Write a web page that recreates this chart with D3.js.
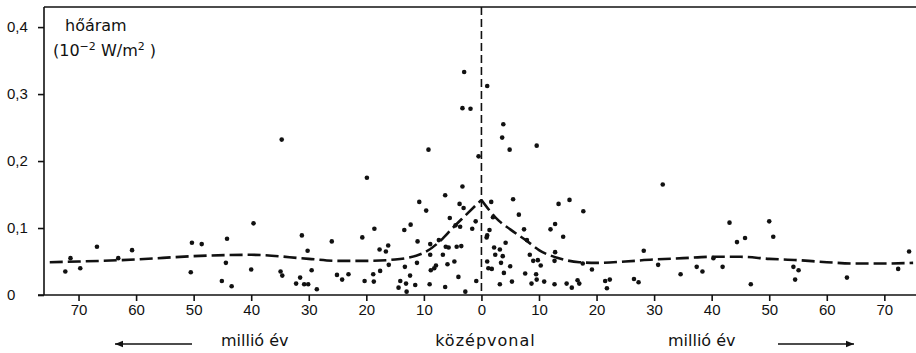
<!DOCTYPE html>
<html>
<head>
<meta charset="utf-8">
<script src="https://cdn.jsdelivr.net/npm/d3@7"></script>
<style>
  body { margin: 0; background: #fff; }
  svg { display: block; font-family: "DejaVu Sans", sans-serif; }
  .axis path, .axis line { stroke: #111; stroke-width: 1.6; }
  .axis text { fill: #111; font-size: 15px; }
  .lbl { fill: #111; font-size: 16px; }
</style>
</head>
<body>
<div id="chart"></div>
<script>
// age in million years (left of ridge negative), heat flow in 10^-2 W/m2
const xTicks = [-70, -60, -50, -40, -30, -20, -10, 0, 10, 20, 30, 40, 50, 60, 70];
const yTicks = [0, 0.1, 0.2, 0.3, 0.4];
const yTickLabels = ['0', '0,1', '0,2', '0,3', '0,4'];

// model curve (dashed)
const model = [
  [-75, 0.049], [-70, 0.05], [-60, 0.053], [-50, 0.058], [-40, 0.06], [-30, 0.054],
  [-25, 0.051], [-20, 0.051], [-15, 0.053], [-10, 0.063], [-7, 0.082], [-5, 0.1],
  [-3, 0.117], [0, 0.142], [3, 0.111], [5, 0.098], [8, 0.08], [10, 0.067],
  [13, 0.056], [17, 0.049], [20, 0.048], [25, 0.05], [30, 0.053], [35, 0.055],
  [40, 0.057], [45, 0.057], [50, 0.054], [55, 0.052], [60, 0.049], [65, 0.047],
  [70, 0.047], [75, 0.048]
];

// measurements
const samples = [
  [-72.3, 0.035], [-71.4, 0.055], [-69.7, 0.040], [-66.8, 0.072], [-63.1, 0.055], [-60.7, 0.067],
  [-50.3, 0.078], [-50.5, 0.034], [-48.6, 0.076], [-44.2, 0.084], [-44.4, 0.048], [-45.1, 0.021],
  [-43.4, 0.013], [-39.6, 0.107], [-40.0, 0.038], [-34.9, 0.035], [-34.6, 0.029], [-34.7, 0.232],
  [-31.2, 0.089], [-30.2, 0.066], [-31.5, 0.026], [-32.2, 0.017], [-30.8, 0.016], [-30.1, 0.016],
  [-29.5, 0.037], [-28.6, 0.0085],
  [-26.0, 0.080], [-25.1, 0.030], [-24.2, 0.023], [-23.1, 0.031], [-20.7, 0.086], [-20.3, 0.021],
  [-19.9, 0.175], [-18.6, 0.099], [-18.8, 0.031], [-18.7, 0.020], [-17.7, 0.068], [-17.6, 0.036],
  [-16.6, 0.065], [-16.2, 0.074], [-16.1, 0.045], [-14.4, 0.011], [-14.1, 0.021], [-13.4, 0.097],
  [-13.3, 0.042], [-13.1, 0.017], [-13.0, 0.005], [-12.3, 0.105], [-12.4, 0.029], [-11.5, 0.015],
  [-11.2, 0.048], [-11.1, 0.080], [-10.8, 0.139], [-9.6, 0.126], [-9.2, 0.217], [-9.0, 0.016],
  [-8.9, 0.076], [-8.8, 0.037], [-8.9, 0.060], [-8.2, 0.040], [-7.9, 0.044], [-7.4, 0.082],
  [-6.7, 0.060], [-6.3, 0.012], [-6.3, 0.149], [-6.2, 0.072], [-5.9, 0.046], [-5.7, 0.071],
  [-5.5, 0.115], [-4.7, 0.050], [-4.5, 0.104], [-4.3, 0.072], [-4.0, 0.027], [-3.8, 0.136],
  [-3.7, 0.102], [-3.5, 0.073], [-3.3, 0.162], [-3.1, 0.130], [-2.8, 0.005], [-1.6, 0.099],
  [-1.0, 0.110], [-0.9, 0.021], [-0.5, 0.207], [-3.0, 0.333], [-3.3, 0.279], [-1.9, 0.278],
  [1.0, 0.312], [3.8, 0.255], [3.6, 0.235], [4.9, 0.217], [9.6, 0.223],
  [1.7, 0.139], [2.0, 0.116], [1.4, 0.097], [1.0, 0.089], [0.9, 0.086], [1.0, 0.050],
  [1.2, 0.040], [1.8, 0.039], [2.2, 0.071], [2.4, 0.060], [3.2, 0.068], [3.4, 0.048],
  [3.7, 0.058], [3.2, 0.016], [3.9, 0.033], [4.2, 0.078], [5.0, 0.043], [5.3, 0.020],
  [5.5, 0.143], [6.5, 0.120], [7.4, 0.098], [7.6, 0.032], [7.9, 0.082], [8.4, 0.060],
  [8.7, 0.017], [9.0, 0.051], [9.5, 0.031], [9.6, 0.023], [9.8, 0.052], [10.3, 0.044],
  [10.9, 0.020], [12.0, 0.098], [12.8, 0.106], [12.8, 0.064], [12.7, 0.051], [12.7, 0.016],
  [13.4, 0.136], [14.2, 0.087], [14.8, 0.017], [15.3, 0.142], [15.7, 0.011], [16.7, 0.022],
  [17.0, 0.017], [17.7, 0.125], [17.6, 0.047], [19.2, 0.038], [21.5, 0.021], [22.3, 0.023],
  [21.8, 0.010],
  [26.5, 0.024], [27.3, 0.019], [28.2, 0.066], [30.7, 0.045], [31.5, 0.165], [34.6, 0.031],
  [37.4, 0.042], [38.4, 0.035], [40.3, 0.055], [41.9, 0.042], [43.1, 0.108], [44.4, 0.079],
  [45.8, 0.085], [46.8, 0.016], [50.0, 0.110], [50.7, 0.087], [54.2, 0.042], [55.1, 0.037],
  [54.5, 0.023], [63.5, 0.026], [72.4, 0.039], [74.3, 0.065]
];

const width = 916, height = 353;
const mLeft = 44, mRight = 916, mTop = 7, mBottom = 295;

const svg = d3.select('#chart').append('svg')
  .attr('width', width)
  .attr('height', height);

const x = d3.scaleLinear().domain([-76, 75.5]).range([mLeft, mRight]);
const y = d3.scaleLinear().domain([0, 0.43]).range([mBottom, mTop]);

// frame top
svg.append('line')
  .attr('x1', mLeft).attr('x2', mRight)
  .attr('y1', mTop).attr('y2', mTop)
  .attr('stroke', '#111').attr('stroke-width', 1.6);

const xAxis = svg.append('g')
  .attr('class', 'axis')
  .attr('transform', `translate(0,${mBottom})`)
  .call(d3.axisBottom(x).tickValues(xTicks).tickFormat(d => Math.abs(d)).tickSizeInner(6).tickSizeOuter(0));
xAxis.select('.domain').attr('d', `M${mLeft - 6},0H${mRight}`);
xAxis.selectAll('text').attr('dy', '0.72em');

const yAxis = svg.append('g')
  .attr('class', 'axis')
  .attr('transform', `translate(${mLeft},0)`)
  .call(d3.axisLeft(y).tickValues(yTicks).tickFormat((d, i) => yTickLabels[i]).tickSizeInner(6).tickSizeOuter(0));
yAxis.select('.domain').attr('d', `M0,${mBottom}V${mTop}`);
yAxis.selectAll('text').attr('x', -37).attr('text-anchor', 'start');

// ridge axis
svg.append('line')
  .attr('x1', x(0)).attr('x2', x(0))
  .attr('y1', mTop).attr('y2', mBottom)
  .attr('stroke', '#111')
  .attr('stroke-width', 1.6)
  .attr('stroke-dasharray', '8,4');

// model curve, two halves so the crest stays sharp
const line = d3.line()
  .x(d => x(d[0]))
  .y(d => y(d[1]))
  .curve(d3.curveMonotoneX);

[model.filter(d => d[0] <= 0), model.filter(d => d[0] >= 0)].forEach(part => {
  svg.append('path')
    .attr('d', line(part))
    .attr('fill', 'none')
    .attr('stroke', '#111')
    .attr('stroke-width', 2.6)
    .attr('stroke-dasharray', '13,5');
});

svg.append('g')
  .selectAll('circle')
  .data(samples)
  .join('circle')
  .attr('cx', d => x(d[0]))
  .attr('cy', d => y(d[1]))
  .attr('r', 2.3)
  .attr('fill', '#111');

// y title
svg.append('text').attr('class', 'lbl').attr('x', 65).attr('y', 31).text('hőáram');
const t2 = svg.append('text').attr('class', 'lbl').attr('x', 53).attr('y', 56);
t2.append('tspan').text('(10');
t2.append('tspan').attr('dy', -6).attr('font-size', 11).text('−2');
t2.append('tspan').attr('dy', 6).text(' W/m');
t2.append('tspan').attr('dy', -6).attr('font-size', 11).text('2');
t2.append('tspan').attr('dy', 6).text(' )');

// bottom captions
svg.append('text').attr('class', 'lbl').attr('x', 221).attr('y', 346).text('millió  év');
svg.append('text').attr('class', 'lbl').attr('x', x(0) + 4).attr('y', 346).attr('text-anchor', 'middle')
  .attr('letter-spacing', 1).text('középvonal');
svg.append('text').attr('class', 'lbl').attr('x', 668).attr('y', 346).text('millió  év');

svg.append('defs').append('marker')
  .attr('id', 'arr')
  .attr('viewBox', '0 -5 10 10')
  .attr('refX', 10).attr('refY', 0)
  .attr('markerWidth', 12).attr('markerHeight', 8)
  .attr('markerUnits', 'userSpaceOnUse')
  .attr('orient', 'auto')
  .append('path')
  .attr('d', 'M0,-4L10,0L0,4Z')
  .attr('fill', '#111');

svg.append('line')
  .attr('x1', 192).attr('x2', 115).attr('y1', 344).attr('y2', 344)
  .attr('stroke', '#111').attr('stroke-width', 1.6).attr('marker-end', 'url(#arr)');
svg.append('line')
  .attr('x1', 778).attr('x2', 854).attr('y1', 344).attr('y2', 344)
  .attr('stroke', '#111').attr('stroke-width', 1.6).attr('marker-end', 'url(#arr)');
</script>
</body>
</html>
